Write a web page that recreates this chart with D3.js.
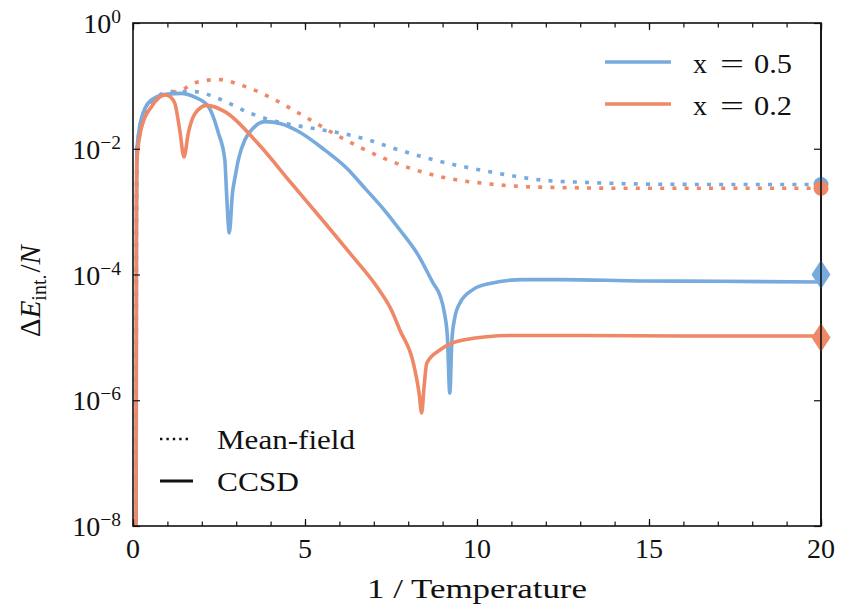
<!DOCTYPE html>
<meta charset="utf-8">
<style>
  body { margin: 0; background: #fff; }
  text { font-family: "Liberation Serif", "DejaVu Serif", serif; fill: #111; }
</style>
<svg width="841" height="610"></svg>
<script src="https://d3js.org/d3.v7.min.js"></script>
<script>
	// values (x = 1/T, y = ΔE/N)
	var blueCcsdT = [0.09, 0.10, 0.11, 0.18, 0.35, 0.6, 1.0, 1.4, 1.8, 2.19, 2.48, 2.67, 2.72, 2.8, 2.89, 2.97, 3.06, 3.25, 3.45, 3.84, 4.3, 4.8, 5.58, 6.2, 6.79, 7.3, 7.76, 8.3, 8.73, 8.92, 9.05, 9.14, 9.21, 9.27, 9.35, 9.5, 9.89, 10.38, 11.34, 12.5, 14.74, 17, 20];
	var blueCcsdE = [1e-9, 1e-3, 8.9e-3, 0.02, 0.044, 0.063, 0.074, 0.076, 0.066, 0.047, 0.018, 6.6e-3, 1.95e-3, 4.6e-4, 1.95e-3, 3.6e-3, 6.6e-3, 0.0138, 0.02, 0.027, 0.025, 0.019, 9.5e-3, 5e-3, 2.2e-3, 1.07e-3, 5.1e-4, 2e-4, 7.2e-5, 4.7e-5, 2.5e-5, 1e-5, 1.3e-6, 9e-6, 2e-5, 3.5e-5, 5.8e-5, 7.2e-5, 8.3e-5, 8.3e-5, 7.9e-5, 7.8e-5, 7.6e-5];

	var redCcsdT = [0.09, 0.10, 0.11, 0.25, 0.54, 0.93, 1.1, 1.22, 1.37, 1.48, 1.61, 1.8, 2.14, 2.67, 3.64, 4.61, 5.58, 6.3, 7.08, 7.5, 7.76, 8.15, 8.32, 8.39, 8.46, 8.54, 8.92, 9.6, 11.05, 13, 16, 20];
	var redCcsdE = [1e-9, 1e-3, 6.3e-3, 0.022, 0.047, 0.072, 0.066, 0.052, 0.018, 7.4e-3, 0.018, 0.036, 0.049, 0.039, 0.012, 2.8e-3, 6.6e-4, 2.2e-4, 6.5e-5, 2.8e-5, 1.3e-5, 3.9e-6, 1.26e-6, 6.3e-7, 1.6e-6, 3.9e-6, 6.3e-6, 9.1e-6, 1.07e-5, 1.07e-5, 1.05e-5, 1.05e-5];

	var blueMfT = [0.09, 0.10, 0.12, 0.3, 0.74, 1.08, 1.8, 2.48, 3.45, 4.13, 4.85, 5.48, 6.2, 6.9, 7.57, 8.92, 10.38, 11.83, 13.28, 14.74, 17, 20];
	var blueMfE = [1e-9, 1e-3, 0.01, 0.035, 0.069, 0.081, 0.081, 0.063, 0.036, 0.0275, 0.0229, 0.02, 0.017, 0.0135, 0.0102, 6.3e-3, 4.3e-3, 3.2e-3, 2.9e-3, 2.75e-3, 2.7e-3, 2.7e-3];

	var redMfT = [0.09, 0.10, 0.12, 0.3, 0.6, 0.93, 1.41, 1.8, 2.48, 3.16, 4.13, 4.85, 5.1, 6.01, 7.28, 8.92, 10.38, 11.83, 14.74, 20];
	var redMfE = [1e-9, 1e-3, 7.9e-3, 0.028, 0.056, 0.074, 0.085, 0.112, 0.126, 0.102, 0.06, 0.036, 0.03, 0.0155, 7.1e-3, 3.6e-3, 2.75e-3, 2.45e-3, 2.35e-3, 2.35e-3];

	// end markers at 1/T = 20
	var markerT = 20;
	var mfEnd = [2.7e-3, 2.35e-3];       // x = 0.5, x = 0.2
	var ccsdRef = [1.0e-4, 1.0e-5];      // x = 0.5, x = 0.2

	var legendValues = ["0.5", "0.2"];
	var styleLabels = ["Mean-field", "CCSD"];
	var xTicks = [0, 5, 10, 15, 20];
	var yTicks = [1, 1e-2, 1e-4, 1e-6, 1e-8];

	var blue = "#77aadd", red = "#ee8866";

	var svg = d3.select("svg");
	var pLeft = 133, pRight = 821, pTop = 23, pBottom = 526;

	var x = d3.scaleLinear().domain([0, 20]).range([pLeft, pRight]);
	var y = d3.scaleLog().domain([1e-8, 1]).range([pBottom, pTop]);

	svg.append("clipPath").attr("id", "clip")
		.append("rect").attr("x", pLeft).attr("y", pTop)
		.attr("width", pRight - pLeft).attr("height", pBottom - pTop);

	function zip(ts, es) { return ts.map(function(t, i) { return [t, es[i]]; }); }

	var line = d3.line()
		.x(function(d) { return x(d[0]); })
		.y(function(d) { return y(Math.max(d[1], 1e-10)); })
		.curve(d3.curveMonotoneX);

	var plot = svg.append("g").attr("clip-path", "url(#clip)");

	var series = [
		{ data: zip(blueMfT, blueMfE), color: blue, dash: "4,8.2" },
		{ data: zip(redMfT, redMfE), color: red, dash: "4,8.2" },
		{ data: zip(blueCcsdT, blueCcsdE), color: blue, dash: null },
		{ data: zip(redCcsdT, redCcsdE), color: red, dash: null }
	];

	series.forEach(function(s) {
		plot.append("path")
			.datum(s.data)
			.attr("d", line)
			.attr("fill", "none")
			.attr("stroke", s.color)
			.attr("stroke-width", 3.6)
			.attr("stroke-dasharray", s.dash);
	});

	// axes: ticks pointing in, on all four sides
	var xMinor = d3.range(0, 21);
	var axes = svg.append("g");

	axes.append("g").attr("transform", "translate(0," + pBottom + ")")
		.call(d3.axisBottom(x).tickValues(xMinor).tickSize(-4.5).tickFormat(""));
	axes.append("g").attr("transform", "translate(0," + pBottom + ")")
		.call(d3.axisBottom(x).tickValues(xTicks).tickSize(-7).tickFormat(""));
	axes.append("g").attr("transform", "translate(0," + pTop + ")")
		.call(d3.axisTop(x).tickValues(xMinor).tickSize(-4.5).tickFormat(""));
	axes.append("g").attr("transform", "translate(0," + pTop + ")")
		.call(d3.axisTop(x).tickValues(xTicks).tickSize(-7).tickFormat(""));
	axes.append("g").attr("transform", "translate(" + pLeft + ",0)")
		.call(d3.axisLeft(y).tickValues(yTicks).tickSize(-7).tickFormat(""));
	axes.append("g").attr("transform", "translate(" + pRight + ",0)")
		.call(d3.axisRight(y).tickValues(yTicks).tickSize(-7).tickFormat(""));

	axes.selectAll(".domain").remove();
	axes.selectAll(".tick line").attr("stroke", "#111").attr("stroke-width", 1.2);

	svg.append("rect")
		.attr("x", pLeft).attr("y", pTop)
		.attr("width", pRight - pLeft).attr("height", pBottom - pTop)
		.attr("fill", "none").attr("stroke", "#111").attr("stroke-width", 1.6);

	// tick labels
	svg.selectAll(".xlab").data(xTicks).enter().append("text")
		.attr("x", function(d) { return x(d); })
		.attr("y", 558)
		.attr("text-anchor", "middle")
		.style("font-size", "28px")
		.text(function(d) { return d; });

	var yl = svg.selectAll(".ylab").data(yTicks).enter().append("text")
		.attr("x", 121)
		.attr("y", function(d) { return y(d) + 10; })
		.attr("text-anchor", "end")
		.style("font-size", "28px");
	yl.append("tspan").text("10");
	yl.append("tspan")
		.attr("dy", -10)
		.style("font-size", "19.5px")
		.text(function(d) { var p = Math.round(Math.log10(d)); return p === 0 ? "0" : "\u2212" + (-p); });

	// axis titles
	svg.append("text")
		.attr("x", 367).attr("y", 598)
		.attr("textLength", 220)
		.attr("lengthAdjust", "spacingAndGlyphs")
		.style("font-size", "28px")
		.text("1 / Temperature");

	var yt = svg.append("text")
		.attr("transform", "translate(40," + 337 + ") rotate(-90)")
		.style("font-size", "29px");
	yt.append("tspan").text("\u0394");
	yt.append("tspan").style("font-style", "italic").text("E");
	yt.append("tspan").attr("dy", 6).style("font-size", "20px").text("int.");
	yt.append("tspan").attr("dy", -6).attr("dx", 2).text("/");
	yt.append("tspan").style("font-style", "italic").text("N");

	// end markers
	var endMarks = svg.append("g");
	[blue, red].forEach(function(c, i) {
		endMarks.append("circle")
			.attr("cx", x(markerT)).attr("cy", y(mfEnd[i]))
			.attr("r", 7.5).attr("fill", c);
	});
	var diamond = "M0,-14.5L9.5,0L0,14.5L-9.5,0Z";
	[blue, red].forEach(function(c, i) {
		endMarks.append("path")
			.attr("transform", "translate(" + x(markerT) + "," + y(ccsdRef[i]) + ")")
			.attr("d", diamond).attr("fill", c);
	});
	svg.append("line")
		.attr("x1", pRight).attr("x2", pRight).attr("y1", pTop).attr("y2", pBottom)
		.attr("stroke", "#111").attr("stroke-width", 1.6);

	// legends
	var lg = svg.append("g");
	[blue, red].forEach(function(c, i) {
		var yy = 62 + i * 42;
		lg.append("line").attr("x1", 605).attr("x2", 671).attr("y1", yy).attr("y2", yy)
			.attr("stroke", c).attr("stroke-width", 3.6);
		var t = lg.append("text").attr("y", yy + 11).style("font-size", "28px");
		t.append("tspan").attr("x", 693).text("x");
		t.append("tspan").attr("x", 720).attr("textLength", 24).attr("lengthAdjust", "spacingAndGlyphs").text("=");
		t.append("tspan").attr("x", 754).attr("textLength", 38).attr("lengthAdjust", "spacingAndGlyphs").text(legendValues[i]);
	});
	var styleWidths = [138, 82];
	styleLabels.forEach(function(s, i) {
		var yy = 439 + i * 42;
		lg.append("line").attr("x1", 160).attr("x2", i === 0 ? 189 : 193).attr("y1", yy).attr("y2", yy)
			.attr("stroke", "#111").attr("stroke-width", i === 0 ? 2.4 : 3)
			.attr("stroke-dasharray", i === 0 ? "2.4,4" : null);
		lg.append("text").attr("x", 217).attr("y", yy + 10)
			.attr("textLength", styleWidths[i]).attr("lengthAdjust", "spacingAndGlyphs")
			.style("font-size", "28px").text(s);
	});
</script>
